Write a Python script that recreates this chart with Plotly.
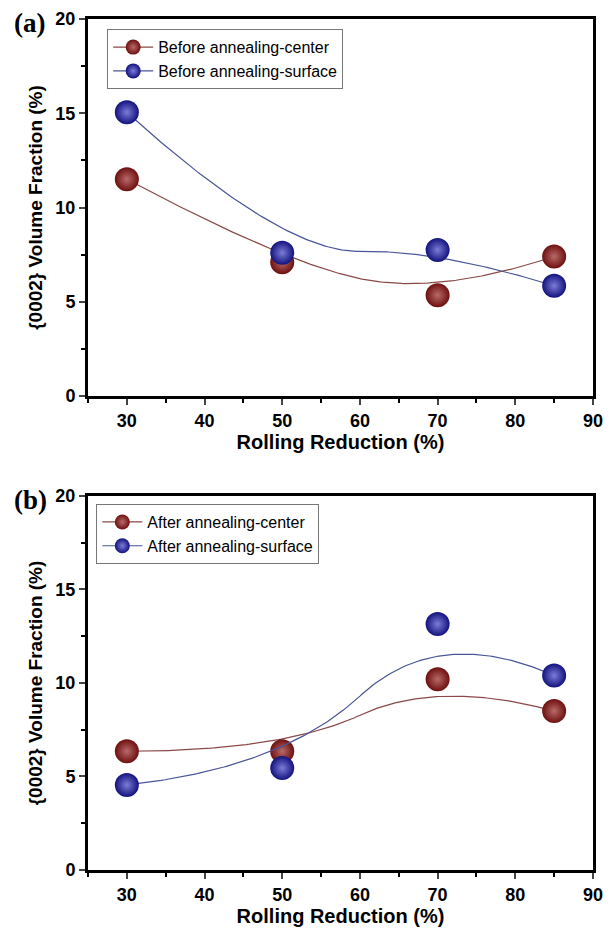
import numpy as np
import plotly.graph_objects as go

# ---------------- data ----------------
reduction = [30, 50, 70, 85]
before_center = [11.5, 7.1, 5.35, 7.4]
before_surface = [15.05, 7.6, 7.75, 5.85]
after_center = [6.35, 6.35, 10.2, 8.5]
after_surface = [4.55, 5.45, 13.15, 10.4]

x_ticks = [30, 40, 50, 60, 70, 80, 90]
y_ticks = [0, 5, 10, 15, 20]

RED = "#6e0f0f"
RED_HI = "#b86a6a"
BLUE = "#12127e"
BLUE_HI = "#7c7cd8"
RED_LINE = "#8a4848"
BLUE_LINE = "#4a5498"


def bspline2(xs, ys, n=80):
    """Clamped quadratic B-spline (Origin 'B-Spline') using the data points as control points."""
    P = np.column_stack([np.asarray(xs, float), np.asarray(ys, float)])
    k = len(P)
    mids = [(P[i] + P[i + 1]) / 2 for i in range(k - 1)]
    s = np.linspace(0, 1, n)[:, None]
    out = []
    for i in range(1, k - 1):
        a = P[0] if i == 1 else mids[i - 1]
        c = P[-1] if i == k - 2 else mids[i]
        b = P[i]
        seg = (1 - s) ** 2 * a + 2 * s * (1 - s) * b + s ** 2 * c
        out.append(seg if i == 1 else seg[1:])
    out = np.vstack(out)
    return out[:, 0], out[:, 1]


fig = go.Figure()

panels = [
    ("x", "y", "legend", [("Before annealing-center", before_center, RED, RED_HI, RED_LINE),
                          ("Before annealing-surface", before_surface, BLUE, BLUE_HI, BLUE_LINE)]),
    ("x2", "y2", "legend2", [("After annealing-center", after_center, RED, RED_HI, RED_LINE),
                             ("After annealing-surface", after_surface, BLUE, BLUE_HI, BLUE_LINE)]),
]

for xa, ya, lg, series in panels:
    for name, vals, col, hi, lcol in series:
        cx, cy = bspline2(reduction, vals)
        fig.add_trace(go.Scatter(x=cx, y=cy, mode="lines", xaxis=xa, yaxis=ya,
                                 line=dict(color=lcol, width=1.2), showlegend=False,
                                 hoverinfo="skip"))
        fig.add_trace(go.Scatter(x=reduction, y=vals, mode="markers", xaxis=xa, yaxis=ya,
                                 name=name, legend=lg, showlegend=False,
                                 marker=dict(size=24, color=col,
                                             gradient=dict(type="radial", color=hi),
                                             line=dict(width=0))))
        # legend entry with line + marker
        fig.add_trace(go.Scatter(x=[None], y=[None], mode="lines+markers", xaxis=xa, yaxis=ya,
                                 name=name, legend=lg, showlegend=True,
                                 line=dict(color=lcol, width=1.2),
                                 marker=dict(size=15, color=col,
                                             gradient=dict(type="radial", color=hi))))

axis_font = dict(family="Liberation Sans, Arial", size=18, color="black", weight="bold")

common_x = dict(range=[25, 90], tickvals=x_ticks, ticks="outside", ticklen=6, tickwidth=2,
                showline=True, linewidth=3, linecolor="black", mirror=True, showgrid=False,
                zeroline=False, tickfont=axis_font,
                minor=dict(dtick=5, ticks="outside", ticklen=4, tickwidth=2, tickcolor="black"),
                title=dict(text="<b>Rolling Reduction (%)</b>",
                           font=dict(family="Liberation Sans, Arial", size=20, color="black"),
                           standoff=6))
common_y = dict(range=[0, 20], tickvals=y_ticks, ticks="outside", ticklen=6, tickwidth=2,
                showline=True, linewidth=3, linecolor="black", mirror=True, showgrid=False,
                zeroline=False, tickfont=axis_font,
                minor=dict(dtick=2.5, ticks="outside", ticklen=4, tickwidth=2, tickcolor="black"),
                title=dict(text="<b>{0002} Volume Fraction (%)</b>",
                           font=dict(family="Liberation Sans, Arial", size=19, color="black"),
                           standoff=8))

legend_common = dict(xanchor="left", yanchor="top", bgcolor="rgba(255,255,255,0)",
                     bordercolor="#777", borderwidth=1,
                     font=dict(family="Liberation Sans, Arial", size=16, color="black"),
                     tracegroupgap=0, itemwidth=40)

fig.update_layout(
    width=612, height=935,
    margin=dict(l=88, r=9, t=10, b=65),
    paper_bgcolor="white", plot_bgcolor="white",
    xaxis=dict(domain=[0, 1], anchor="y", **common_x),
    yaxis=dict(domain=[0.557, 1.0], anchor="x", **common_y),
    xaxis2=dict(domain=[0, 1], anchor="y2", **common_x),
    yaxis2=dict(domain=[0.0, 0.4395], anchor="x2", **common_y),
    legend=dict(x=0.038, y=0.988, **legend_common),
    legend2=dict(x=0.0165, y=0.43, **legend_common),
    annotations=[
        dict(text="<b>(a)</b>", xref="paper", yref="paper", x=-0.15, y=0.995,
             xanchor="left", yanchor="middle", showarrow=False,
             font=dict(family="Liberation Serif, Times New Roman", size=27, color="black")),
        dict(text="<b>(b)</b>", xref="paper", yref="paper", x=-0.15, y=0.4345,
             xanchor="left", yanchor="middle", showarrow=False,
             font=dict(family="Liberation Serif, Times New Roman", size=27, color="black")),
    ],
)

fig.write_html("out.html")
